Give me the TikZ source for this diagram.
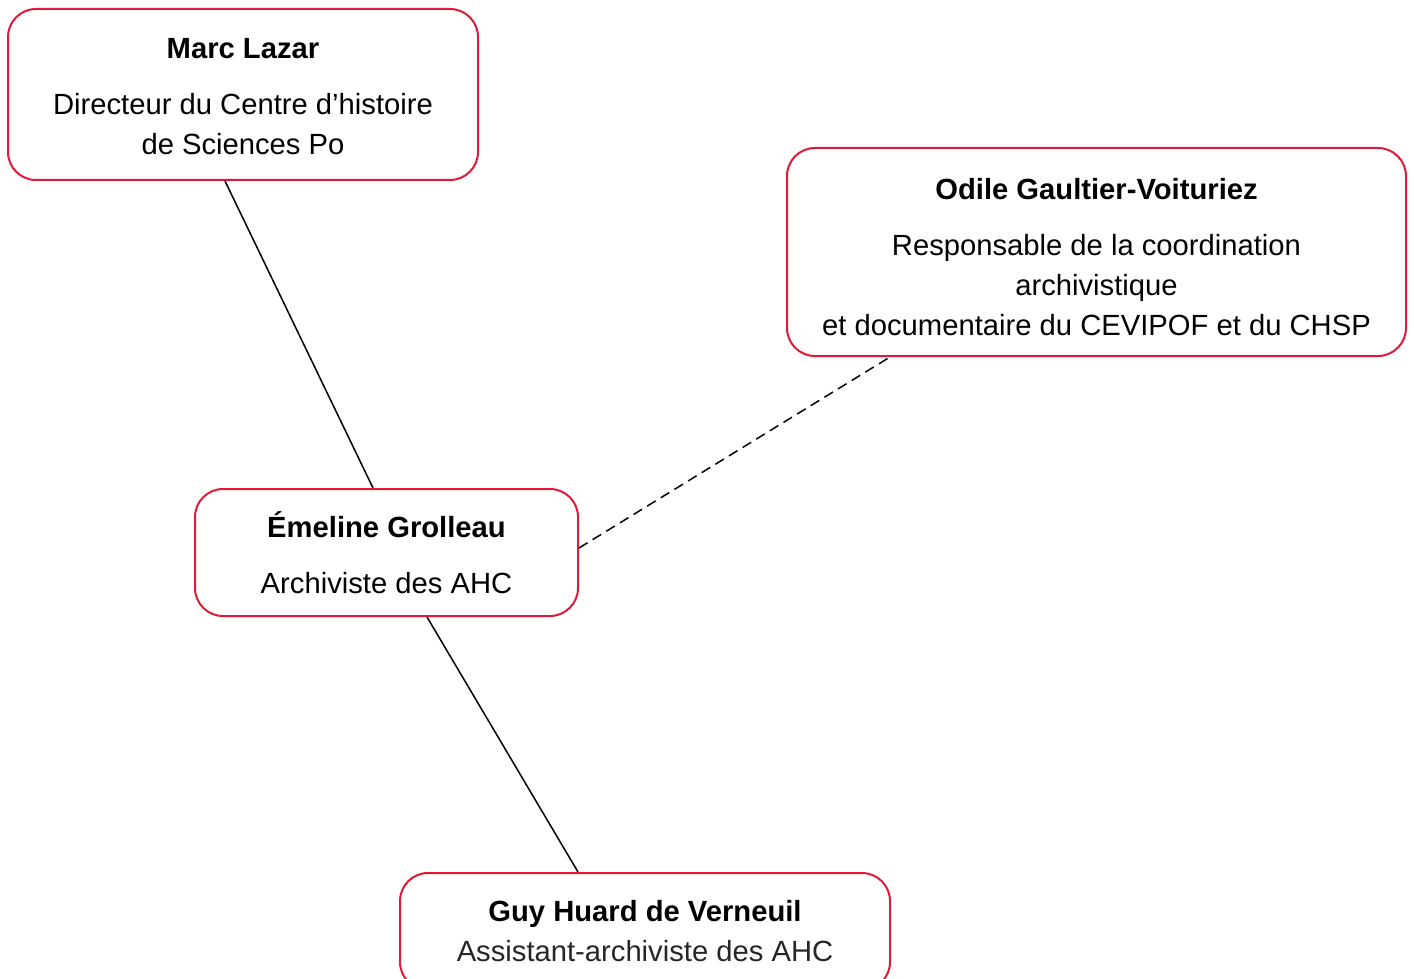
\documentclass[tikz,border=0pt]{standalone}
\usepackage{fontspec}
\setmainfont{Liberation Sans}
\definecolor{boxred}{RGB}{226,25,55}
\tikzstyle{PersonBox} = [draw=boxred,line width=1pt,rounded corners=14pt,align=center,inner sep=0pt,font=\fontsize{14.6pt}{20pt}\selectfont]
\tikzstyle{LinkLine} = [line width=0.75pt,color=black]
\tikzstyle{LinkDash} = [line width=0.75pt,color=black,dashed,dash pattern=on 5pt off 3pt]

\begin{document}
\begin{tikzpicture}[x=0.5pt,y=-0.5pt]
\useasboundingbox (0,0) rectangle (1414,979);


\node (marc) at (243,94.5) [PersonBox,minimum width=235pt,minimum height=85.5pt]
  {\rule{0pt}{12.5pt}\textbf{Marc Lazar}\\[8pt]Directeur du Centre d’histoire\\de Sciences Po};

\node (odile) at (1096.5,252) [PersonBox,minimum width=309.5pt,minimum height=104pt]
  {\rule{0pt}{15.5pt}\textbf{Odile Gaultier-Voituriez}\\[8pt]Responsable de la coordination\\archivistique\\et documentaire du CEVIPOF et du CHSP};

\node (emeline) at (386.5,552.5) [PersonBox,minimum width=191.5pt,minimum height=63.5pt]
  {\textbf{Émeline Grolleau}\\[8pt]Archiviste des AHC};

\node (guy) at (645,931.5) [PersonBox,minimum width=245pt,minimum height=58.5pt]
  {\textbf{Guy Huard de Verneuil}\\\textcolor{black!85}{Assistant-archiviste des AHC}};


\draw[LinkLine] ([xshift=-9pt]marc.south) -- ([xshift=-6.75pt]emeline.north);
\draw[LinkLine] ([xshift=20.25pt]emeline.south) -- ([xshift=-33.5pt]guy.north);
\draw[LinkDash] ([yshift=2.25pt]emeline.east) -- ([xshift=-103.25pt]odile.south);

\end{tikzpicture}
\end{document}
